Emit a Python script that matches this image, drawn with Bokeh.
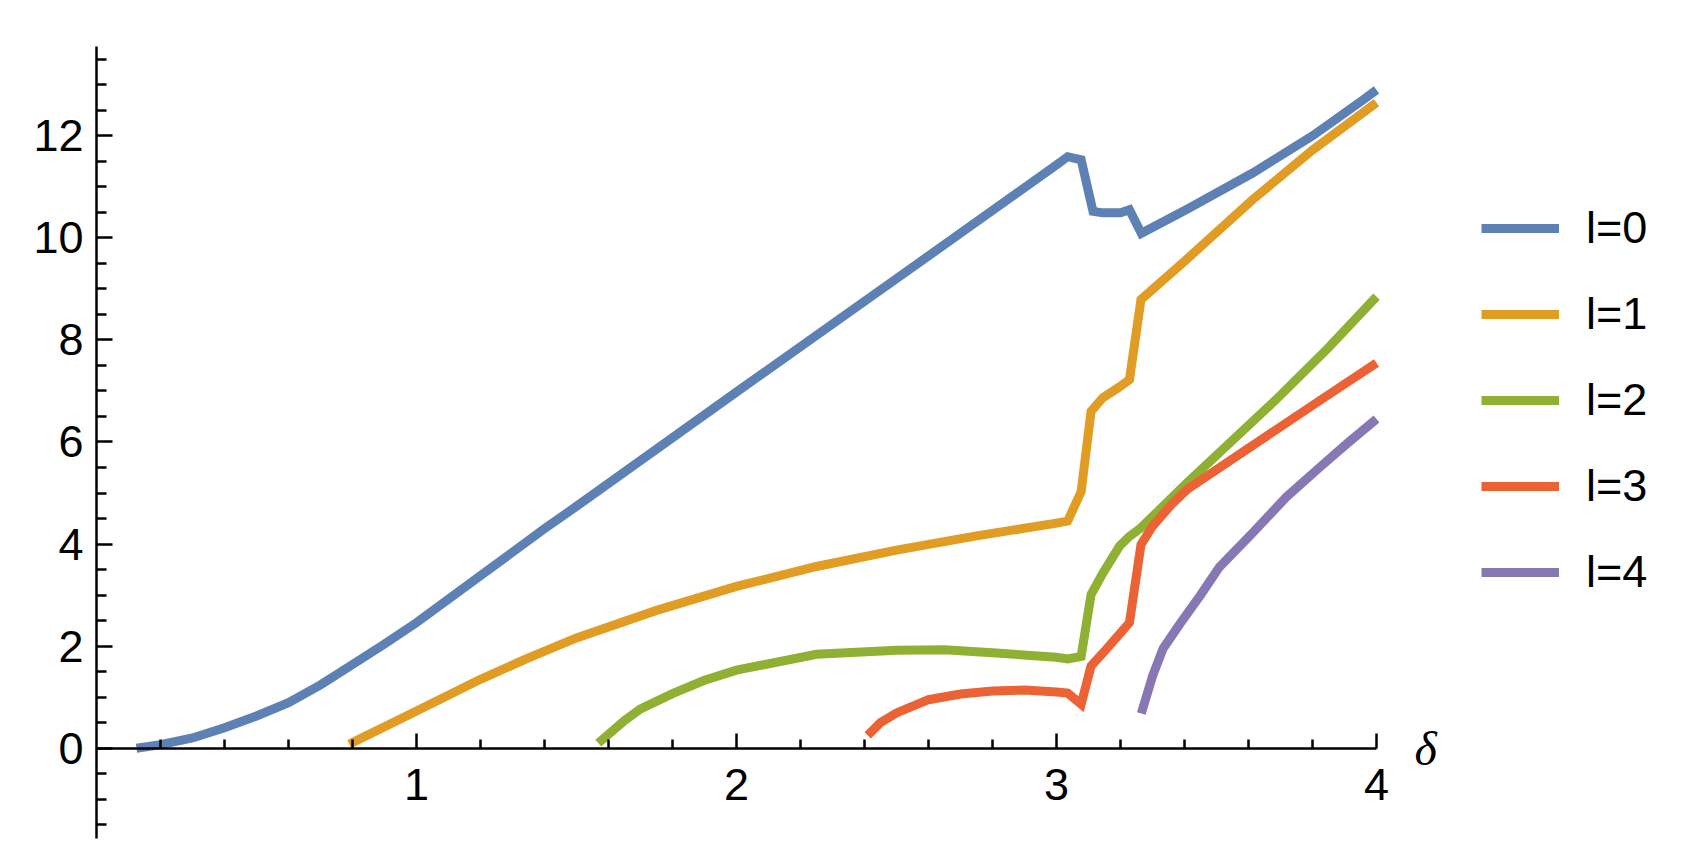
from bokeh.plotting import figure
from bokeh.models import Range1d, LinearAxis, FixedTicker, Label, Legend, LegendItem
from bokeh.embed import file_html
from bokeh.resources import INLINE

# ---------------- data ----------------
labels = ["l=0", "l=1", "l=2", "l=3", "l=4"]
colors = ["#5E81B5", "#E19C24", "#8FB032", "#EB6235", "#8778B3"]

x_l0 = [0.125, 0.2, 0.3, 0.4, 0.5, 0.6, 0.7, 0.8, 0.9, 1.0, 1.2, 1.4, 1.5, 2.0, 2.5,
        3.0, 3.035, 3.077, 3.114, 3.145, 3.2, 3.228, 3.265, 3.405, 3.613, 3.8, 3.957, 4.0]
y_l0 = [0.0, 0.07, 0.2, 0.40, 0.63, 0.89, 1.24, 1.64, 2.04, 2.46, 3.38, 4.30, 4.74, 6.98, 9.2,
        11.43, 11.59, 11.53, 10.52, 10.49, 10.49, 10.55, 10.09, 10.55, 11.27, 12.0, 12.70, 12.9]

x_l1 = [0.79, 1.0, 1.2, 1.35, 1.5, 1.75, 2.0, 2.25, 2.5, 2.75, 3.0, 3.035, 3.077, 3.108,
        3.145, 3.19, 3.228, 3.264, 3.405, 3.613, 3.8, 4.0]
y_l1 = [0.08, 0.73, 1.35, 1.77, 2.16, 2.70, 3.17, 3.56, 3.88, 4.16, 4.41, 4.45, 5.03, 6.60,
        6.87, 7.05, 7.22, 8.79, 9.57, 10.75, 11.72, 12.65]

x_l2 = [1.568, 1.6, 1.65, 1.7, 1.8, 1.9, 2.0, 2.25, 2.5, 2.65, 2.8, 3.0, 3.035, 3.077, 3.108,
        3.145, 3.197, 3.228, 3.264, 3.405, 3.686, 3.85, 4.0]
y_l2 = [0.1, 0.27, 0.54, 0.77, 1.07, 1.33, 1.53, 1.84, 1.92, 1.93, 1.87, 1.78, 1.75, 1.80, 3.01,
        3.43, 3.96, 4.15, 4.32, 5.18, 6.83, 7.85, 8.85]

x_l3 = [2.41, 2.45, 2.5, 2.6, 2.7, 2.8, 2.9, 3.0, 3.035, 3.077, 3.108, 3.15, 3.228, 3.264,
        3.30, 3.36, 3.41, 3.4625, 3.827, 4.0]
y_l3 = [0.25, 0.5, 0.69, 0.95, 1.06, 1.12, 1.14, 1.10, 1.08, 0.86, 1.61, 1.9, 2.46, 3.99,
        4.35, 4.78, 5.08, 5.30, 6.83, 7.55]

x_l4 = [3.265, 3.30, 3.333, 3.384, 3.45, 3.509, 3.613, 3.718, 3.822, 3.91, 4.0]
y_l4 = [0.68, 1.41, 1.95, 2.42, 3.0, 3.55, 4.22, 4.92, 5.50, 5.98, 6.45]

x_ticks = [1, 2, 3, 4]
x_minor = [0.2, 0.4, 0.6, 0.8, 1.2, 1.4, 1.6, 1.8, 2.2, 2.4, 2.6, 2.8, 3.2, 3.4, 3.6, 3.8]
y_ticks = [0, 2, 4, 6, 8, 10, 12]
y_minor = [-1.5, -1.0, -0.5, 0.5, 1.0, 1.5, 2.5, 3.0, 3.5, 4.5, 5.0, 5.5, 6.5, 7.0, 7.5,
           8.5, 9.0, 9.5, 10.5, 11.0, 11.5, 12.5, 13.0, 13.5]

series_x = [x_l0, x_l1, x_l2, x_l3, x_l4]
series_y = [y_l0, y_l1, y_l2, y_l3, y_l4]

# ---------------- figure ----------------
# x range extends past 4 so that the axis symbol and the legend stay inside the frame
p = figure(width=1680, height=855, output_backend="svg", toolbar_location=None,
           x_range=Range1d(0, 4.9), y_range=Range1d(-1.77, 13.75),
           x_axis_type=None, y_axis_type=None,
           min_border_left=96, min_border_right=16, min_border_top=46, min_border_bottom=17)
p.outline_line_color = None
p.background_fill_color = "white"
p.border_fill_color = "white"

FONT = "Liberation Sans"

xaxis = LinearAxis(fixed_location=0, bounds=(0, 4),
                   ticker=FixedTicker(ticks=x_ticks, minor_ticks=x_minor))
yaxis = LinearAxis(ticker=FixedTicker(ticks=y_ticks, minor_ticks=y_minor))
for ax in (xaxis, yaxis):
    ax.axis_line_width = 2.5
    ax.axis_line_color = "black"
    ax.major_tick_line_width = 2.5
    ax.minor_tick_line_width = 2.5
    ax.major_tick_line_color = "black"
    ax.minor_tick_line_color = "black"
    ax.major_tick_out = 0
    ax.minor_tick_out = 0
    ax.major_label_text_font = FONT
    ax.major_label_text_font_size = "45px"
    ax.major_label_text_color = "black"
xaxis.major_tick_in = 15
xaxis.minor_tick_in = 9
xaxis.major_label_standoff = 21
yaxis.major_tick_in = 16
yaxis.minor_tick_in = 10
yaxis.major_label_standoff = 13
p.add_layout(xaxis, "below")
p.add_layout(yaxis, "left")

renderers = []
for xs, ys, c in zip(series_x, series_y, colors):
    r = p.line(xs, ys, line_width=9, line_color=c, line_join="miter")
    renderers.append(r)

p.add_layout(Label(x=4, y=0, text="δ", x_offset=38, text_baseline="middle",
                   text_font="Liberation Serif", text_font_style="italic",
                   text_font_size="48px", text_color="black"))

legend = Legend(items=[LegendItem(label=l, renderers=[r]) for l, r in zip(labels, renderers)],
                location=(1385, 240), padding=0, margin=0, spacing=34,
                glyph_width=78, glyph_height=52, label_height=52, label_standoff=27,
                label_text_font=FONT, label_text_font_size="45px", label_text_color="black",
                border_line_color=None, background_fill_alpha=0)
p.add_layout(legend, "center")

open("out.html", "w").write(file_html(p, INLINE))
